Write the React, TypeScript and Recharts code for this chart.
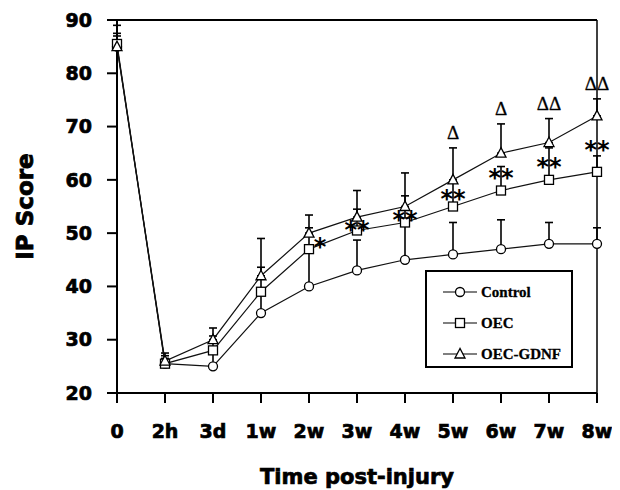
import React from 'react';
import { LineChart, Line, XAxis, YAxis, ErrorBar, LabelList, ReferenceLine } from 'recharts';

// time points after injury
const times = ['0', '2h', '3d', '1w', '2w', '3w', '4w', '5w', '6w', '7w', '8w'];

// mean IP scores, plus upper error (SD)
const control = [85, 25.5, 25, 35, 40, 43, 45, 46, 47, 48, 48];
const controlErr = [2, 1, 2.5, 4.5, 6.5, 5.7, 6.5, 6, 5.5, 4, 3];
const oec = [85.5, 25.5, 28, 39, 47, 50.5, 52, 55, 58, 60, 61.5];
const oecErr = [2, 1.5, 2.7, 4.6, 4, 4, 5, 4.5, 4.5, 6, 3];
const gdnf = [85, 26, 30, 42, 50, 53, 55, 60, 65, 67, 72];
const gdnfErr = [4, 1.5, 2.2, 7, 3.4, 5, 6.3, 6, 5.5, 4.5, 3.2];

// significance marks
const stars = ['', '', '', '', '*', '**', '**', '**', '**', '**', '**'];
const deltas = ['', '', '', '', '', '', '', 'Δ', 'Δ', 'ΔΔ', 'ΔΔ'];

const yTicks = [20, 30, 40, 50, 60, 70, 80, 90];

const rows = times.map((t, i) => ({
  time: t,
  control: control[i],
  controlErr: [0, controlErr[i]],
  oec: oec[i],
  oecErr: [0, oecErr[i]],
  gdnf: gdnf[i],
  gdnfErr: [0, gdnfErr[i]],
  starY: (oec[i] + gdnf[i]) / 2,
  star: stars[i],
  deltaY: gdnf[i] + gdnfErr[i],
  delta: deltas[i],
}));

const tickFont = {
  fontFamily: 'DejaVu Sans',
  fontWeight: 700,
  fontSize: 19,
  fill: '#000',
  stroke: '#000',
  strokeWidth: 0.7,
};

const CircleDot = (p: any) => (
  <circle key={`c${p.index}`} cx={p.cx} cy={p.cy} r={4.5} fill="#fff" stroke="#000" strokeWidth={1.3} />
);
const SquareDot = (p: any) => (
  <rect key={`s${p.index}`} x={p.cx - 4.5} y={p.cy - 4.5} width={9} height={9} fill="#fff" stroke="#000" strokeWidth={1.3} />
);
const TriangleDot = (p: any) => (
  <polygon
    key={`t${p.index}`}
    points={`${p.cx},${p.cy - 5.5} ${p.cx - 5},${p.cy + 4} ${p.cx + 5},${p.cy + 4}`}
    fill="#fff"
    stroke="#000"
    strokeWidth={1.3}
  />
);

const StarLabel = (p: any) => {
  if (!p.value) return null;
  const dx = p.value === '*' ? 11 : 0;
  return (
    <text
      x={p.x + dx}
      y={p.y + 14}
      textAnchor="middle"
      fontFamily="DejaVu Sans"
      fontWeight={700}
      fontSize={24}
      fill="#000"
    >
      {p.value}
    </text>
  );
};

const DeltaLabel = (p: any) => {
  if (!p.value) return null;
  return (
    <text
      x={p.x}
      y={p.y - 9}
      textAnchor="middle"
      fontFamily="Liberation Serif"
      fontSize={19}
      fill="#000"
      stroke="#000"
      strokeWidth={0.3}
    >
      {p.value}
    </text>
  );
};

const legendItems = [
  { name: 'Control', shape: 'circle' },
  { name: 'OEC', shape: 'square' },
  { name: 'OEC-GDNF', shape: 'triangle' },
];

function LegendBox() {
  return (
    <div
      style={{
        position: 'absolute',
        left: 417,
        top: 262,
        width: 144,
        height: 94,
        border: '2px solid #000',
        background: '#fff',
      }}
    >
      {legendItems.map((it, i) => (
        <div
          key={it.name}
          style={{ position: 'absolute', left: 15, top: 10 + i * 31, height: 20, display: 'flex', alignItems: 'center' }}
        >
          <svg width={36} height={14}>
            <line x1={1} y1={7} x2={35} y2={7} stroke="#000" strokeWidth={1.2} />
            {it.shape === 'circle' && <circle cx={18} cy={7} r={4.5} fill="#fff" stroke="#000" strokeWidth={1.3} />}
            {it.shape === 'square' && <rect x={13.5} y={2.5} width={9} height={9} fill="#fff" stroke="#000" strokeWidth={1.3} />}
            {it.shape === 'triangle' && (
              <polygon points="18,1.5 13,11 23,11" fill="#fff" stroke="#000" strokeWidth={1.3} />
            )}
          </svg>
          <span
            style={{
              marginLeft: 3,
              fontFamily: 'Liberation Serif',
              fontWeight: 700,
              fontSize: 15,
              color: '#000',
              WebkitTextStroke: '0.3px #000',
            }}
          >
            {it.name}
          </span>
        </div>
      ))}
    </div>
  );
}

export default function App() {
  return (
    <div style={{ position: 'relative', width: 612, height: 482 }}>
      <LineChart width={612} height={482} data={rows} margin={{ top: 12, right: 23, left: 0, bottom: 0 }}>
        <XAxis
          dataKey="time"
          height={97}
          stroke="#000"
          strokeWidth={2}
          tickSize={10}
          tickMargin={22}
          tick={tickFont}
          interval={0}
          label={{
            value: 'Time post-injury',
            position: 'insideBottom',
            offset: 6,
            style: { fontFamily: 'DejaVu Sans', fontWeight: 700, fontSize: 21, fill: '#000', stroke: '#000', strokeWidth: 0.7 },
          }}
        />
        <YAxis
          domain={[20, 90]}
          ticks={yTicks}
          width={109}
          stroke="#000"
          strokeWidth={2}
          tickSize={10}
          tickMargin={15}
          tick={tickFont}
          label={{
            value: 'IP Score',
            angle: -90,
            position: 'center',
            dx: -38,
            style: { fontFamily: 'DejaVu Sans', fontWeight: 700, fontSize: 23, fill: '#000', stroke: '#000', strokeWidth: 0.8 },
          }}
        />
        {/* frame: top and right edges */}
        <ReferenceLine y={90} stroke="#000" strokeWidth={2} />
        <ReferenceLine x="8w" stroke="#000" strokeWidth={1.5} />

        <Line dataKey="control" stroke="#111" strokeWidth={1.2} dot={CircleDot} activeDot={false} isAnimationActive={false}>
          <ErrorBar dataKey="controlErr" direction="y" width={4} stroke="#000" strokeWidth={1.6} />
        </Line>
        <Line dataKey="oec" stroke="#111" strokeWidth={1.2} dot={SquareDot} activeDot={false} isAnimationActive={false}>
          <ErrorBar dataKey="oecErr" direction="y" width={4} stroke="#000" strokeWidth={1.6} />
        </Line>
        <Line dataKey="gdnf" stroke="#111" strokeWidth={1.2} dot={TriangleDot} activeDot={false} isAnimationActive={false}>
          <ErrorBar dataKey="gdnfErr" direction="y" width={4} stroke="#000" strokeWidth={1.6} />
        </Line>
        <Line dataKey="starY" stroke="none" dot={false} activeDot={false} isAnimationActive={false}>
          <LabelList dataKey="star" content={StarLabel} />
        </Line>
        <Line dataKey="deltaY" stroke="none" dot={false} activeDot={false} isAnimationActive={false}>
          <LabelList dataKey="delta" content={DeltaLabel} />
        </Line>
      </LineChart>
      <LegendBox />
    </div>
  );
}
